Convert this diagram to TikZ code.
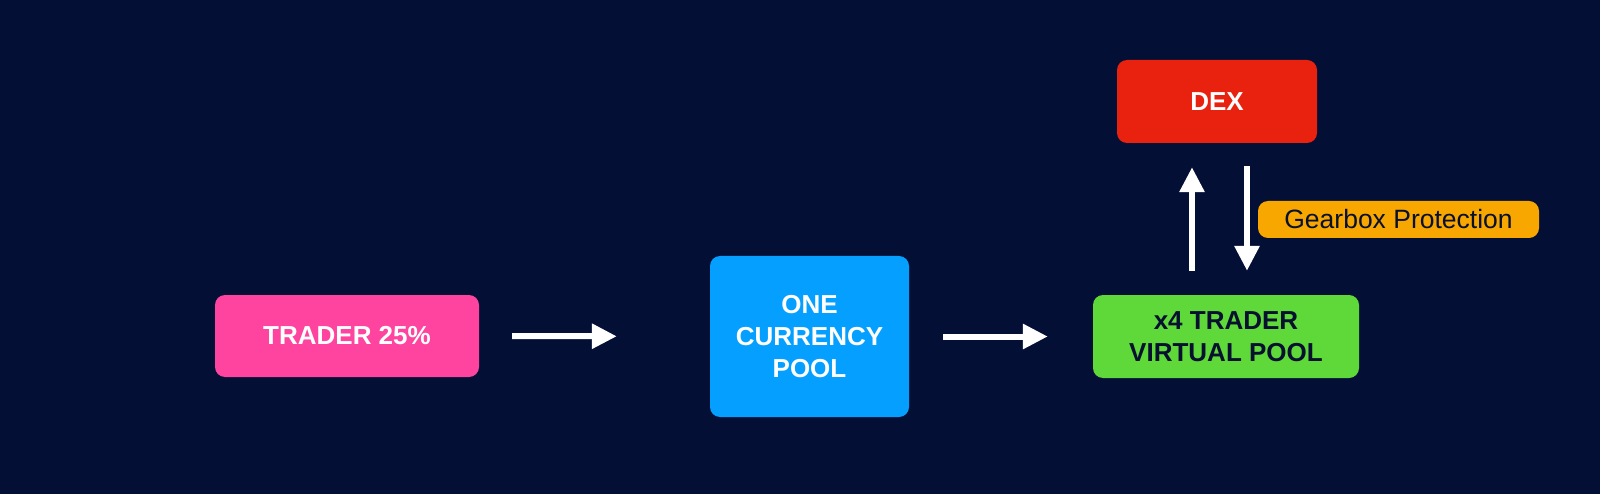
\documentclass[tikz,border=0pt]{standalone}
\usepackage{fontspec}
\setmainfont{Liberation Sans}
\usetikzlibrary{arrows.meta}
\definecolor{bg}{HTML}{040F35}
\definecolor{cpink}{HTML}{FF449F}
\definecolor{cblue}{HTML}{05A0FF}
\definecolor{cred}{HTML}{E8220E}
\definecolor{cgreen}{HTML}{5FD83A}
\definecolor{corange}{HTML}{F8A700}
\definecolor{ctext}{HTML}{07102F}
\begin{document}
\begin{tikzpicture}[x=1pt,y=-1pt,
  box/.style={rounded corners=10pt, inner sep=0pt, align=center,
    font=\fontsize{26}{32}\selectfont\bfseries},
  arr/.style={draw=white, line width=6pt, -{Triangle[width=24pt,length=25pt]}},
  tag/.style={rounded corners=10pt, inner sep=0pt, fill=corange, text=ctext,
    font=\fontsize{26.5}{30}\selectfont}]
\fill[bg] (0,0) rectangle (1600,494);
\useasboundingbox (0,0) rectangle (1600,494);
\node[box, fill=cpink, text=white, minimum width=264pt, minimum height=82pt] (trader) at (347,336) {TRADER 25\%};
\node[box, fill=cblue, text=white, minimum width=199pt, minimum height=161pt] (pool) at (809.5,336.5) {ONE\\CURRENCY\\POOL};
\node[box, fill=cgreen, text=ctext, minimum width=266pt, minimum height=83pt] (virt) at (1226,336.5) {x4 TRADER\\VIRTUAL POOL};
\node[box, fill=cred, text=white, minimum width=200pt, minimum height=83pt] (dex) at (1217,101.5) {DEX};
\node[tag, minimum width=281pt, minimum height=37pt] (gear) at (1398.5,219.5) {Gearbox Protection};
\coordinate (upx) at (1192,0);
\coordinate (dnx) at (1247,0);
\draw[arr, shorten <=33pt, shorten >=93pt] (trader.east) -- (pool.west);
\draw[arr, shorten <=34pt, shorten >=45pt] (pool.east) -- (virt.west);
\draw[arr, shorten <=24pt, shorten >=24pt] (virt.north -| upx) -- (dex.south -| upx);
\draw[arr, shorten <=23pt, shorten >=24pt] (dex.south -| dnx) -- (virt.north -| dnx);
\end{tikzpicture}
\end{document}
